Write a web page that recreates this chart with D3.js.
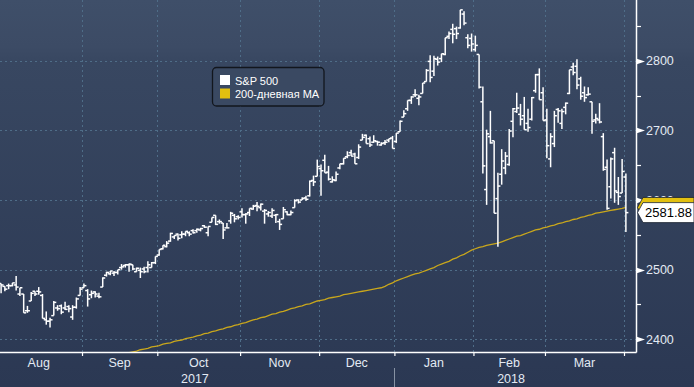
<!DOCTYPE html>
<html>
<head>
<meta charset="utf-8">
<script src="https://cdn.jsdelivr.net/npm/d3@7"></script>
<style>
  body { margin: 0; background: #2b3853; }
  svg { display: block; font-family: "Liberation Sans", Arial, sans-serif; }
</style>
</head>
<body>
<script>
// trading days per month, Aug 2017 .. Apr 2018
const monthNames = ["Aug", "Sep", "Oct", "Nov", "Dec", "Jan", "Feb", "Mar", "Apr"];
const yearLabels = [{ label: "2017", first: 0, last: 5 }, { label: "2018", first: 5, last: 9 }];
const tradingDays = [
    [1, 2, 3, 4, 7, 8, 9, 10, 11, 14, 15, 16, 17, 18, 21, 22, 23, 24, 25, 28, 29, 30, 31],
    [1, 5, 6, 7, 8, 11, 12, 13, 14, 15, 18, 19, 20, 21, 22, 25, 26, 27, 28, 29],
    [2, 3, 4, 5, 6, 9, 10, 11, 12, 13, 16, 17, 18, 19, 20, 23, 24, 25, 26, 27, 30, 31],
    [1, 2, 3, 6, 7, 8, 9, 10, 13, 14, 15, 16, 17, 20, 21, 22, 24, 27, 28, 29, 30],
    [1, 4, 5, 6, 7, 8, 11, 12, 13, 14, 15, 18, 19, 20, 21, 22, 26, 27, 28, 29],
    [2, 3, 4, 5, 8, 9, 10, 11, 12, 16, 17, 18, 19, 22, 23, 24, 25, 26, 29, 30, 31],
    [1, 2, 5, 6, 7, 8, 9, 12, 13, 14, 15, 16, 20, 21, 22, 23, 26, 27, 28],
    [1, 2, 5, 6, 7, 8, 9, 12, 13, 14, 15, 16, 19, 20, 21, 22, 23, 26, 27, 28, 29],
    [2]
];

// S&P 500 daily bars, one row per month
const opens = [
    [2477, 2480, 2476, 2477, 2477, 2478, 2465, 2465, 2441, 2455, 2469, 2469, 2463, 2428, 2426, 2434, 2445, 2448, 2445, 2447, 2432, 2446, 2463],
    [2474, 2470, 2464, 2468, 2462, 2475, 2492, 2494, 2495, 2496, 2503, 2506, 2507, 2507, 2497, 2499, 2501, 2503, 2503, 2510],
    [2521, 2530, 2533, 2541, 2547, 2551, 2550, 2551, 2553, 2556, 2556, 2557, 2563, 2553, 2568, 2578, 2569, 2567, 2560, 2570, 2578, 2576],
    [2583, 2579, 2582, 2587, 2592, 2589, 2584, 2580, 2577, 2578, 2569, 2573, 2583, 2579, 2589, 2600, 2600, 2603, 2606, 2628, 2634],
    [2645, 2657, 2640, 2626, 2628, 2646, 2652, 2662, 2668, 2666, 2661, 2686, 2693, 2688, 2683, 2684, 2679, 2682, 2686, 2689],
    [2684, 2698, 2719, 2731, 2743, 2751, 2746, 2753, 2770, 2799, 2785, 2802, 2803, 2809, 2835, 2845, 2846, 2847, 2867, 2833, 2832],
    [2816, 2809, 2741, 2615, 2691, 2685, 2602, 2637, 2646, 2651, 2713, 2727, 2723, 2721, 2710, 2716, 2757, 2780, 2754],
    [2715, 2659, 2681, 2730, 2710, 2733, 2753, 2791, 2792, 2774, 2754, 2751, 2741, 2715, 2715, 2691, 2647, 2619, 2668, 2611, 2610],
    [2633]
];
const highs = [
    [2479, 2480, 2476, 2480, 2481, 2491, 2474, 2465, 2448, 2468, 2469, 2475, 2465, 2440, 2431, 2455, 2449, 2450, 2454, 2449, 2449, 2460, 2475],
    [2480, 2472, 2470, 2469, 2467, 2489, 2497, 2498, 2498, 2500, 2508, 2508, 2509, 2507, 2503, 2503, 2504, 2512, 2511, 2519],
    [2529, 2535, 2541, 2553, 2549, 2552, 2555, 2555, 2555, 2558, 2559, 2560, 2564, 2562, 2575, 2578, 2572, 2567, 2567, 2583, 2580, 2578],
    [2588, 2581, 2588, 2593, 2597, 2595, 2587, 2584, 2588, 2580, 2573, 2590, 2584, 2585, 2601, 2601, 2604, 2606, 2628, 2635, 2658],
    [2651, 2665, 2649, 2634, 2641, 2652, 2660, 2670, 2672, 2668, 2680, 2695, 2694, 2691, 2693, 2685, 2683, 2686, 2688, 2692],
    [2696, 2714, 2729, 2743, 2749, 2759, 2751, 2768, 2788, 2808, 2807, 2806, 2810, 2833, 2842, 2853, 2849, 2873, 2871, 2838, 2839],
    [2836, 2809, 2763, 2701, 2728, 2685, 2639, 2673, 2669, 2702, 2732, 2754, 2738, 2748, 2731, 2748, 2781, 2789, 2762],
    [2731, 2696, 2728, 2732, 2731, 2740, 2787, 2797, 2802, 2777, 2763, 2762, 2741, 2724, 2739, 2696, 2658, 2661, 2675, 2633, 2659],
    [2638]
];
const lows = [
    [2471, 2466, 2469, 2472, 2476, 2470, 2462, 2438, 2438, 2455, 2462, 2464, 2430, 2421, 2417, 2434, 2441, 2436, 2442, 2439, 2428, 2444, 2463],
    [2474, 2447, 2459, 2460, 2459, 2475, 2490, 2492, 2491, 2493, 2500, 2503, 2497, 2499, 2497, 2488, 2495, 2496, 2503, 2508],
    [2520, 2529, 2532, 2540, 2544, 2542, 2545, 2548, 2548, 2552, 2553, 2555, 2560, 2548, 2568, 2564, 2566, 2544, 2560, 2566, 2568, 2572],
    [2575, 2566, 2577, 2586, 2584, 2585, 2566, 2576, 2574, 2567, 2557, 2573, 2578, 2578, 2589, 2595, 2600, 2599, 2605, 2620, 2634],
    [2606, 2639, 2628, 2625, 2627, 2644, 2651, 2660, 2663, 2652, 2659, 2686, 2681, 2676, 2682, 2678, 2678, 2679, 2683, 2674],
    [2682, 2698, 2719, 2728, 2738, 2748, 2736, 2753, 2770, 2769, 2778, 2793, 2798, 2808, 2831, 2825, 2831, 2846, 2851, 2818, 2813],
    [2813, 2760, 2638, 2593, 2681, 2581, 2533, 2622, 2637, 2649, 2690, 2725, 2707, 2701, 2698, 2714, 2754, 2744, 2714],
    [2660, 2647, 2676, 2711, 2702, 2723, 2752, 2779, 2759, 2744, 2741, 2750, 2695, 2710, 2710, 2642, 2586, 2602, 2596, 2593, 2610],
    [2554]
];
const closes = [
    [2476, 2478, 2472, 2477, 2481, 2475, 2474, 2438, 2441, 2466, 2465, 2468, 2430, 2426, 2428, 2453, 2444, 2439, 2443, 2444, 2446, 2458, 2472],
    [2477, 2458, 2466, 2465, 2461, 2488, 2496, 2498, 2496, 2500, 2504, 2507, 2508, 2501, 2502, 2497, 2497, 2507, 2510, 2519],
    [2529, 2535, 2538, 2552, 2549, 2545, 2551, 2555, 2551, 2553, 2558, 2559, 2561, 2562, 2575, 2565, 2569, 2557, 2560, 2581, 2573, 2575],
    [2579, 2580, 2588, 2591, 2591, 2594, 2585, 2582, 2585, 2579, 2565, 2586, 2579, 2582, 2599, 2597, 2602, 2601, 2627, 2626, 2648],
    [2642, 2639, 2630, 2629, 2637, 2652, 2660, 2664, 2663, 2652, 2676, 2690, 2681, 2679, 2685, 2683, 2681, 2683, 2688, 2674],
    [2696, 2713, 2724, 2743, 2748, 2751, 2748, 2768, 2786, 2776, 2803, 2798, 2810, 2833, 2839, 2838, 2839, 2873, 2854, 2822, 2824],
    [2822, 2762, 2649, 2695, 2682, 2581, 2620, 2656, 2663, 2699, 2731, 2732, 2716, 2701, 2704, 2747, 2780, 2744, 2714],
    [2678, 2691, 2721, 2728, 2727, 2739, 2787, 2783, 2765, 2749, 2747, 2752, 2713, 2717, 2712, 2644, 2588, 2659, 2613, 2605, 2641],
    [2581.88]
];
// 200-day moving average
const ma200 = [
    [2335, 2336, 2338, 2339, 2340, 2342, 2343, 2344, 2346, 2347, 2348, 2350, 2351, 2352, 2353, 2355, 2356, 2357, 2358, 2360, 2361, 2362, 2364],
    [2365, 2366, 2368, 2369, 2370, 2372, 2373, 2374, 2376, 2377, 2378, 2380, 2381, 2382, 2383, 2385, 2386, 2387, 2389, 2390],
    [2391, 2393, 2394, 2395, 2397, 2398, 2399, 2401, 2402, 2403, 2405, 2406, 2408, 2409, 2411, 2412, 2414, 2415, 2417, 2418, 2420, 2421],
    [2423, 2424, 2426, 2428, 2429, 2431, 2432, 2434, 2436, 2437, 2439, 2440, 2442, 2444, 2445, 2447, 2448, 2450, 2451, 2453, 2455],
    [2456, 2457, 2459, 2460, 2461, 2462, 2464, 2465, 2466, 2467, 2468, 2469, 2470, 2471, 2472, 2473, 2474, 2476, 2479, 2481],
    [2484, 2486, 2488, 2490, 2492, 2494, 2495, 2497, 2499, 2501, 2503, 2506, 2508, 2510, 2512, 2515, 2517, 2520, 2522, 2525, 2528],
    [2530, 2532, 2533, 2535, 2536, 2537, 2538, 2540, 2542, 2544, 2546, 2548, 2549, 2551, 2553, 2555, 2557, 2558, 2560],
    [2561, 2563, 2564, 2566, 2567, 2569, 2570, 2572, 2573, 2575, 2576, 2578, 2579, 2581, 2582, 2583, 2584, 2585, 2586, 2587, 2588],
    [2589.3]
];
const yTicks = [2400, 2500, 2600, 2700, 2800, 2900];
const yMinorTicks = [2450, 2550, 2650, 2750, 2850];
const legendItems = [{ label: "S&P 500", color: "#ffffff" }, { label: "200-дневная MA", color: "#e2c010" }];

const width = 694;
const height = 387;
const plotRight = 636;
const plotBottom = 352;

// flatten into one row per day
const bars = [];
tradingDays.forEach((days, m) => days.forEach((day, j) => {
    bars.push({ m, day, o: opens[m][j], h: highs[m][j], l: lows[m][j], c: closes[m][j], ma: ma200[m][j] });
}));
bars.forEach((d, i) => d.i = i);

// month start index
const monthStart = [];
let acc = 0;
tradingDays.forEach(days => { monthStart.push(acc); acc += days.length; });
monthStart.push(acc);

const x = d3.scaleLinear()
    .domain([0, monthStart[8]])
    .range([-4.55, 624]);

const y = d3.scaleLinear()
    .domain([2400, 2800])
    .range([339.3, 60.7]);

const svg = d3.select("body")
    .append("svg")
    .attr("width", width)
    .attr("height", height);

const defs = svg.append("defs");
const grad = defs.append("linearGradient")
    .attr("id", "bg")
    .attr("x1", 0).attr("y1", 0).attr("x2", 0).attr("y2", 1);
grad.append("stop").attr("offset", "0").attr("stop-color", "#3f4f69");
grad.append("stop").attr("offset", "0.12").attr("stop-color", "#3c4b65");
grad.append("stop").attr("offset", "0.16").attr("stop-color", "#384761");
grad.append("stop").attr("offset", "1").attr("stop-color", "#2b3853");

defs.append("clipPath")
    .attr("id", "clip")
    .append("rect")
    .attr("x", 0).attr("y", 0)
    .attr("width", plotRight).attr("height", plotBottom);

svg.append("rect")
    .attr("width", width)
    .attr("height", height)
    .attr("fill", "url(#bg)");

// grid
const grid = svg.append("g")
    .attr("stroke", "#4f6d88")
    .attr("stroke-dasharray", "2,3")
    .attr("stroke-width", 1);

grid.selectAll(".hgrid")
    .data(yTicks.filter(t => y(t) > 0))
    .enter()
    .append("line")
    .attr("x1", 0)
    .attr("x2", plotRight)
    .attr("y1", d => Math.round(y(d)) + 0.5)
    .attr("y2", d => Math.round(y(d)) + 0.5);

grid.selectAll(".vgrid")
    .data(monthStart.slice(1, 9))
    .enter()
    .append("line")
    .attr("x1", d => Math.round(x(d)) + 0.5)
    .attr("x2", d => Math.round(x(d)) + 0.5)
    .attr("y1", 0)
    .attr("y2", plotBottom);

const plot = svg.append("g").attr("clip-path", "url(#clip)");

// moving average
const maLine = d3.line()
    .x(d => x(d.i + 0.5))
    .y(d => y(d.ma));

plot.append("path")
    .datum(bars)
    .attr("fill", "none")
    .attr("stroke", "#c9a71c")
    .attr("stroke-width", 1.3)
    .attr("d", maLine);

// OHLC bars
const barG = plot.selectAll(".bar")
    .data(bars)
    .enter()
    .append("g")
    .attr("class", "bar")
    .attr("stroke", "#ffffff")
    .attr("stroke-width", 1.5);

barG.append("line")
    .attr("x1", d => x(d.i + 0.5))
    .attr("x2", d => x(d.i + 0.5))
    .attr("y1", d => y(d.h))
    .attr("y2", d => y(d.l));

barG.append("line")
    .attr("x1", d => x(d.i + 0.5) - 2.5)
    .attr("x2", d => x(d.i + 0.5))
    .attr("y1", d => y(d.o))
    .attr("y2", d => y(d.o));

barG.append("line")
    .attr("x1", d => x(d.i + 0.5))
    .attr("x2", d => x(d.i + 0.5) + 2.5)
    .attr("y1", d => y(d.c))
    .attr("y2", d => y(d.c));

// axes
const xAxis = d3.axisBottom(x)
    .tickValues(monthStart.slice(1, 9))
    .tickSize(4)
    .tickSizeOuter(0)
    .tickFormat("");

const xAxisG = svg.append("g")
    .attr("transform", `translate(0, ${plotBottom})`)
    .call(xAxis);
xAxisG.select(".domain").remove();
xAxisG.selectAll("line").attr("stroke", "#ffffff").attr("stroke-width", 1.2);

svg.append("line")
    .attr("x1", 0).attr("x2", plotRight + 0.5)
    .attr("y1", plotBottom + 0.5).attr("y2", plotBottom + 0.5)
    .attr("stroke", "#ffffff")
    .attr("stroke-width", 1.5);

svg.append("line")
    .attr("x1", plotRight + 0.5).attr("x2", plotRight + 0.5)
    .attr("y1", 0).attr("y2", plotBottom + 0.5)
    .attr("stroke", "#ffffff")
    .attr("stroke-width", 1.5);

// month labels
svg.selectAll(".month")
    .data(monthNames.slice(0, 8))
    .enter()
    .append("text")
    .attr("x", (d, i) => (x(monthStart[i]) + x(monthStart[i + 1])) / 2)
    .attr("y", 367)
    .attr("text-anchor", "middle")
    .attr("font-size", 12.5)
    .attr("fill", "#e3eaf3")
    .text(d => d);

svg.selectAll(".year")
    .data(yearLabels)
    .enter()
    .append("text")
    .attr("x", d => (x(monthStart[d.first]) + Math.min(plotRight, x(monthStart[d.last]))) / 2)
    .attr("y", 383)
    .attr("text-anchor", "middle")
    .attr("font-size", 12.5)
    .attr("fill", "#e3eaf3")
    .text(d => d.label);

svg.append("line")
    .attr("x1", Math.round(x(monthStart[5])) + 0.5)
    .attr("x2", Math.round(x(monthStart[5])) + 0.5)
    .attr("y1", 368)
    .attr("y2", height)
    .attr("stroke", "#8792a3")
    .attr("stroke-width", 1);

// right axis
const yAxisG = svg.append("g");

yAxisG.selectAll(".minor")
    .data(yMinorTicks.filter(t => y(t) > 0))
    .enter()
    .append("line")
    .attr("x1", plotRight)
    .attr("x2", plotRight + 5)
    .attr("y1", d => Math.round(y(d)) + 0.5)
    .attr("y2", d => Math.round(y(d)) + 0.5)
    .attr("stroke", "#ffffff")
    .attr("stroke-width", 1.2);

yAxisG.selectAll(".major")
    .data(yTicks.filter(t => y(t) > 0))
    .enter()
    .append("path")
    .attr("d", d => {
        const yy = Math.round(y(d)) + 0.5;
        return `M${plotRight},${yy - 3}L${plotRight + 9},${yy}L${plotRight},${yy + 3}Z`;
    })
    .attr("fill", "#ffffff");

yAxisG.selectAll(".ylabel")
    .data(yTicks.filter(t => y(t) > 0))
    .enter()
    .append("text")
    .attr("x", plotRight + 10)
    .attr("y", d => y(d))
    .attr("dy", "0.36em")
    .attr("font-size", 12.5)
    .attr("fill", "#e3eaf3")
    .text(d => d);

// last value labels (the MA tag sits behind the price tag)
function valueLabel(value, fill, showText) {
    const yy = y(value);
    const g = svg.append("g");
    g.append("path")
        .attr("d", `M${plotRight + 1.5},${yy}L${plotRight + 7},${yy - 10}L${width},${yy - 10}L${width},${yy + 10}L${plotRight + 7},${yy + 10}Z`)
        .attr("fill", fill)
        .attr("stroke", "#1b2230")
        .attr("stroke-width", 0.8);
    if (showText) {
        g.append("text")
            .attr("x", plotRight + 9)
            .attr("y", yy)
            .attr("dy", "0.36em")
            .attr("font-size", 13)
            .attr("fill", "#000000")
            .text(d3.format(".2f")(value));
    }
}
const last = bars[bars.length - 1];
valueLabel(last.ma, "#e2c010", false);
valueLabel(last.c, "#ffffff", true);

// legend
const legend = svg.append("g").attr("transform", "translate(212.5, 67.5)");

legend.append("rect")
    .attr("width", 111.5)
    .attr("height", 38.5)
    .attr("rx", 4)
    .attr("fill", "#3a4962")
    .attr("stroke", "#12161d")
    .attr("stroke-width", 1.3);

const legendRow = legend.selectAll(".item")
    .data(legendItems)
    .enter()
    .append("g")
    .attr("transform", (d, i) => `translate(7.5, ${7.5 + i * 13.5})`);

legendRow.append("rect")
    .attr("width", 10)
    .attr("height", 10)
    .attr("fill", d => d.color);

legendRow.append("text")
    .attr("x", 15)
    .attr("y", 9.5)
    .attr("font-size", 11)
    .attr("fill", "#ffffff")
    .text(d => d.label);
</script>
</body>
</html>
